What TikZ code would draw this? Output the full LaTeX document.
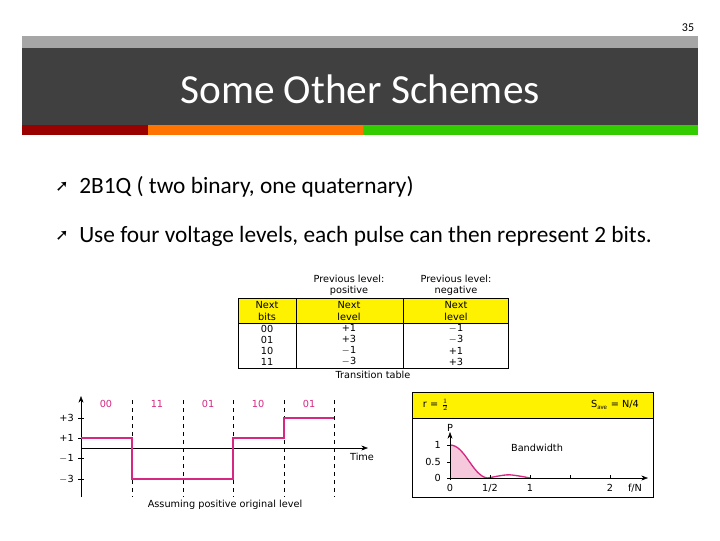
\documentclass[tikz,border=0pt]{standalone}
\usepackage{fontspec}
\setmainfont{Carlito}
\newfontfamily\dv{DejaVu Sans}
\usetikzlibrary{arrows.meta}
\definecolor{mag}{RGB}{214,40,130}
\definecolor{yel}{RGB}{255,242,0}
\definecolor{pinkf}{RGB}{246,200,220}
\tikzset{lbl/.style={font=\dv\fontsize{7.3}{8.3}\selectfont,inner sep=0pt},
 dashln/.style={dashed,line width=0.5pt},
 bul/.style={font=\fontsize{17.5}{20}\selectfont,anchor=west,inner sep=0pt}}
\begin{document}
\begin{tikzpicture}[x=0.75pt,y=-0.75pt]
\useasboundingbox (0,0) rectangle (720,540);
\fill[white] (0,0) rectangle (720,540);
\node[font=\fontsize{9}{10}\selectfont] (pg) at (688,28) {35};
\fill[gray!70] (22,36) rectangle (698,48);
\fill[black!75] (22,48) rectangle (698,125);
\fill[red!60!black] (22,125) rectangle (148,135);
\fill[orange!90!red] (148,125) rectangle (363,135);
\fill[green!60!olive] (363,125) rectangle (698,135);
\node[white,font=\fontsize{31}{34}\selectfont] (title) at (360,89) {Some Other Schemes};
\node[bul] (b1a) at (55,187) {\dv\fontsize{12}{13}\selectfont ➚};
\node[bul] (b1) at (79,187) {2B1Q ( two binary, one quaternary)};
\node[bul] (b2a) at (55,236) {\dv\fontsize{12}{13}\selectfont ➚};
\node[bul] (b2) at (79,236) {Use four voltage levels, each pulse can then represent 2 bits.};
% table
\fill[yel] (238,298) rectangle (508,323);
\draw[line width=0.6pt] (238,298) rectangle (508,368) (238,323)--(508,323) (296,298)--(296,368) (403,298)--(403,368);
\node[lbl,align=center] (p1) at (349,285) {Previous level:\\positive};
\node[lbl,align=center] (p2) at (456,285) {Previous level:\\negative};
\node[lbl,align=center] (h1) at (267,311) {Next\\bits};
\node[lbl,align=center] (h2) at (349,311) {Next\\level};
\node[lbl,align=center] (h3) at (456,311) {Next\\level};
\node[lbl,align=center] (c1) at (267,345) {00\\01\\10\\11};
\node[lbl,align=center] (c2) at (349,345) {+1\\+3\\$-$1\\$-$3};
\node[lbl,align=center] (c3) at (456,345) {$-$1\\$-$3\\+1\\+3};
\node[lbl] (tt) at (373,375) {Transition table};
% waveform
\coordinate (ya) at (81,497); \coordinate (yb) at (81,396);
\coordinate (xa) at (81,448); \coordinate (xb) at (368,448);
\draw[-{Stealth[length=5pt]}] (ya)--(yb);
\draw[-{Stealth[length=5pt]}] (xa)--(xb);
\foreach \x in {132,183,233,284,334} \draw[dashln] (\x,400)--(\x,497);
\foreach \y/\t in {418/+3,438/+1,458/$-$1,479/$-$3}{\draw (78,\y)--(84,\y); \node[lbl,anchor=east] at (74,\y) {\t};}
\foreach \x/\t in {106/00,157/11,208/01,258/10,309/01} \node[lbl,text=mag] at (\x,404) {\t};
\draw[mag,line width=1.6pt] (81,438)--(132,438)--(132,479)--(233,479)--(233,438)--(284,438)--(284,418)--(334,418);
\node[lbl] (time) at (362,457) {Time};
\node[lbl] (cap) at (225,505) {Assuming positive original level};
% spectrum box
\fill[yel] (412,392) rectangle (653,418);
\draw[line width=0.6pt] (412,392) rectangle (653,497) (412,418)--(653,418);
\node[lbl] (r) at (436,405) {r = $\frac{1}{2}$};
\node[lbl] (s) at (615,405) {S$_{\mathrm{ave}}$ = N/4};
\fill[pinkf] (450,445) .. controls (465,445) and (472,475) .. (487,478) -- (450,478) -- cycle;
\draw[mag,line width=1pt] (450,445) .. controls (465,445) and (472,475) .. (487,478) .. controls (495,477) and (505,474) .. (512,475) .. controls (520,476) and (525,477) .. (530,478);
\draw[-{Stealth[length=5pt]}] (450,480)--(450,432);
\draw[-{Stealth[length=5pt]}] (448,478)--(648,478);
\node[lbl,anchor=south] (pl) at (450,432) {P};
\foreach \y/\t in {445/1,462/0.5,478/0}{\draw (447,\y)--(450,\y); \node[lbl,anchor=east] at (441,\y) {\t};}
\foreach \x/\t in {450/0,490/{1/2},530/1,570/{},610/2}{\draw (\x,475)--(\x,478); \node[lbl] at (\x,488) {\t};}
\node[lbl] (fn) at (635,488) {f/N};
\node[lbl] (bw) at (537,448) {Bandwidth};
\end{tikzpicture}
\end{document}
